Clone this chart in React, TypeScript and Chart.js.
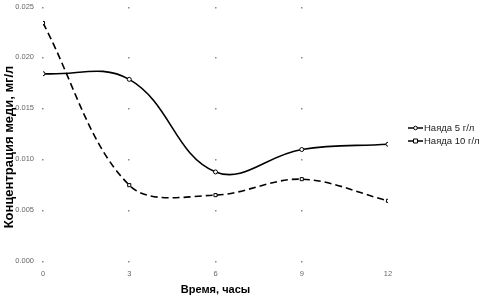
import React, { useEffect, useRef } from "react";
import { Chart, registerables } from "chart.js";

Chart.register(...registerables);

const hours = [0, 3, 6, 9, 12];
const naiad5 = [0.0184, 0.01784, 0.00875, 0.01095, 0.01147];
const naiad10 = [0.02338, 0.00745, 0.00647, 0.00804, 0.00591];
const seriesNames = ["Наяда 5 г/л", "Наяда 10 г/л"];
const yTicks = [0, 0.005, 0.01, 0.015, 0.02, 0.025];
const xTitle = "Время, часы";
const yTitle = "Концентрация меди, мг/л";

const FONT = "'Liberation Sans', Arial, sans-serif";
const SHIFT = 7;

const dotGrid = {
  id: "dotGrid",
  beforeDatasetsDraw(chart: any) {
    const { ctx, scales } = chart;
    const xs = scales.x;
    const ys = scales.y;
    ctx.save();
    ctx.fillStyle = "#8a8a8a";
    hours.slice(0, hours.length - 1).forEach((h) => {
      const px = Math.round(xs.getPixelForValue(h));
      yTicks.forEach((v) => {
        const py = Math.round(ys.getPixelForValue(v));
        ctx.fillRect(px - 1, py, 1.5, 1.5);
      });
    });
    ctx.restore();
  },
};

const customLegend = {
  id: "customLegend",
  afterDraw(chart: any) {
    const { ctx, chartArea } = chart;
    const x0 = chartArea.right + 20;
    const x1 = x0 + 15;
    const rows = [128 + SHIFT, 141 + SHIFT];
    ctx.save();
    chart.data.datasets.forEach((ds: any, i: number) => {
      const y = rows[i];
      ctx.strokeStyle = "#000";
      ctx.lineWidth = 1.5;
      ctx.setLineDash([]);
      ctx.beginPath();
      ctx.moveTo(x0, y);
      ctx.lineTo(x1, y);
      ctx.stroke();
      ctx.fillStyle = "#fff";
      ctx.lineWidth = 1;
      ctx.beginPath();
      if (i === 0) {
        ctx.arc((x0 + x1) / 2, y, 1.8, 0, Math.PI * 2);
      } else {
        ctx.rect((x0 + x1) / 2 - 2, y - 2, 4, 4);
      }
      ctx.fill();
      ctx.stroke();
      ctx.fillStyle = "#222";
      ctx.font = `9.5px ${FONT}`;
      ctx.textBaseline = "middle";
      ctx.textAlign = "left";
      ctx.fillText(ds.label, x1 + 1, y + 0.5);
    });
    // y axis title
    ctx.translate(9, 147 + SHIFT);
    ctx.rotate(-Math.PI / 2);
    ctx.fillStyle = "#000";
    ctx.font = `bold 13px ${FONT}`;
    ctx.textAlign = "center";
    ctx.textBaseline = "middle";
    ctx.fillText(yTitle, 0, 0);
    ctx.restore();
  },
};

export default function App() {
  const ref = useRef<HTMLCanvasElement | null>(null);
  useEffect(() => {
    if (!ref.current) return;
    const chart = new Chart(ref.current, {
      type: "line",
      data: {
        datasets: [
          {
            label: seriesNames[0],
            data: hours.map((h, i) => ({ x: h, y: naiad5[i] })),
            borderColor: "#000",
            borderWidth: 1.6,
            tension: 0.4,
            pointStyle: "circle",
            pointRadius: 2,
            pointBorderWidth: 1,
            pointBackgroundColor: "#fff",
            pointBorderColor: "#000",
          },
          {
            label: seriesNames[1],
            data: hours.map((h, i) => ({ x: h, y: naiad10[i] })),
            borderColor: "#000",
            borderWidth: 1.6,
            borderDash: [7, 4],
            tension: 0.35,
            pointStyle: "rect",
            pointRadius: 2.2,
            pointBorderWidth: 1,
            pointBackgroundColor: "#fff",
            pointBorderColor: "#000",
          },
        ],
      },
      options: {
        animation: false,
        responsive: false,
        maintainAspectRatio: false,
        layout: { padding: { top: 0, right: 106, left: 0, bottom: 0 } },
        plugins: { legend: { display: false }, tooltip: { enabled: false } },
        scales: {
          x: {
            type: "linear",
            min: 0,
            max: 12,
            grid: { display: false, drawTicks: false },
            border: { display: false },
            afterBuildTicks: (s: any) => {
              s.ticks = hours.map((v) => ({ value: v }));
            },
            afterFit: (s: any) => {
              s.height = 36;
            },
            ticks: {
              padding: 8,
              color: "#666",
              font: { size: 7.5, family: FONT },
              maxRotation: 0,
            },
            title: {
              display: true,
              text: xTitle,
              color: "#000",
              font: { size: 11, weight: "bold", family: FONT },
              padding: { top: 2, bottom: 0 },
            },
          },
          y: {
            min: 0,
            max: 0.025,
            grid: { display: false, drawTicks: false },
            border: { display: false },
            afterBuildTicks: (s: any) => {
              s.ticks = yTicks.map((v) => ({ value: v }));
            },
            afterFit: (s: any) => {
              s.width = 43;
            },
            ticks: {
              padding: 9,
              color: "#666",
              font: { size: 7.5, family: FONT },
              callback: (v: any) => Number(v).toFixed(3),
            },
          },
        },
      },
      plugins: [dotGrid, customLegend],
    });
    return () => chart.destroy();
  }, []);
  return (
    <div style={{ position: "fixed", left: 0, top: 0, width: 494, height: 297, overflow: "hidden", background: "#fff" }}>
      <canvas
        ref={ref}
        width={494}
        height={297 + SHIFT}
        style={{ position: "absolute", left: 0, top: -SHIFT, width: 494, height: 297 + SHIFT }}
      />
    </div>
  );
}
